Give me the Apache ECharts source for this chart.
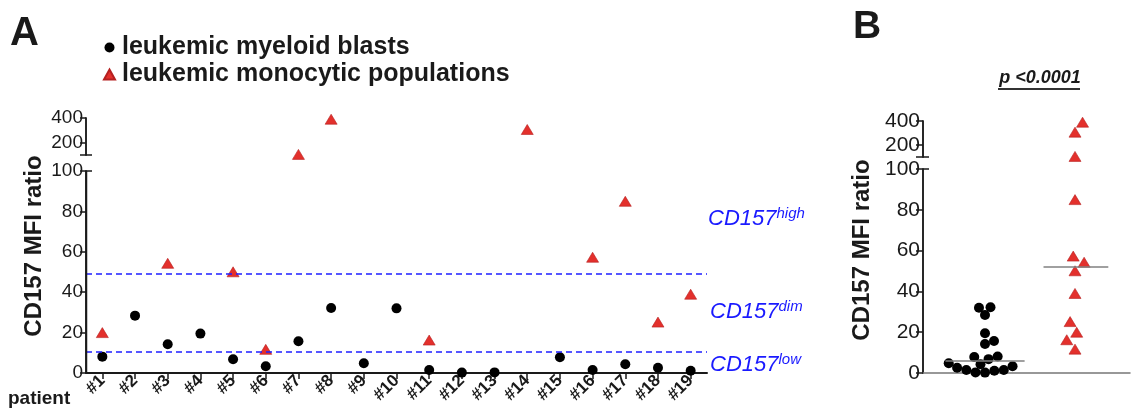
<!DOCTYPE html>
<html>
<head>
<meta charset="utf-8">
<script src="https://cdn.jsdelivr.net/npm/echarts@6/dist/echarts.min.js"></script>
<style>
  html, body { margin: 0; padding: 0; background: #fff; }
  #chart { width: 1132px; height: 412px; }
</style>
</head>
<body>
<div id="chart"></div>
<script>
// values
const patients = ['#1', '#2', '#3', '#4', '#5', '#6', '#7', '#8', '#9', '#10',
  '#11', '#12', '#13', '#14', '#15', '#16', '#17', '#18', '#19'];
const blasts = [8.1, 28.4, 14.2, 19.5, 6.8, 3.3, 15.7, 32.2, 4.8, 32,
  1.5, 0.2, 0.3, null, 7.8, 1.5, 4.3, 2.6, 1.1];
const monocytic = [20, null, 54.3, null, 50.1, 11.7, 105, 390, null, null,
  16.3, null, null, 307, null, 57.3, 85, 25.2, 39];
const thresholds = [49, 10.4];
const breakValue = 100;
const topValue = 400;
const upperLabels = [200, 400];

const FONT = '"Liberation Sans", Arial, sans-serif';
const RED = '#e3302c';
const INK = '#1a1a1a';

// grid geometry
const A = { left: 86, width: 621, upTop: 118, upH: 37, lowTop: 171, lowH: 202 };
const B = { left: 923, width: 207, upTop: 121, upH: 36, lowTop: 169, lowH: 204 };
const bxMin = -0.689, bxMax = 1.611;

function yPixB(v) {
  if (v <= breakValue) return B.lowTop + B.lowH - v / breakValue * B.lowH;
  return B.upTop + B.upH - (v - breakValue) / (topValue - breakValue) * B.upH;
}

// simple beeswarm in pixel space
function swarm(values, minDist) {
  const order = values.map((v, i) => i).sort((a, b) => values[a] - values[b]);
  const placed = [];
  const xs = new Array(values.length);
  let flip = 1;
  order.forEach(i => {
    const y = yPixB(values[i]);
    const blocked = [];
    placed.forEach(p => {
      const dy = Math.abs(p.y - y);
      if (dy < minDist) {
        const w = Math.sqrt(minDist * minDist - dy * dy);
        blocked.push([p.x - w, p.x + w]);
      }
    });
    const cands = [0];
    blocked.forEach(b => cands.push(b[0], b[1]));
    const ok = cands.filter(c => blocked.every(b => c <= b[0] + 1e-6 || c >= b[1] - 1e-6));
    ok.sort((a, b) => (Math.abs(a) - Math.abs(b)) || (a - b) * flip);
    const x = ok[0];
    if (Math.abs(x) > 1e-6) flip = -flip;
    placed.push({ x: x, y: y });
    xs[i] = x;
  });
  return xs;
}

function median(arr) {
  const s = arr.slice().sort((a, b) => a - b);
  const n = s.length;
  return n % 2 ? s[(n - 1) / 2] : (s[n / 2 - 1] + s[n / 2]) / 2;
}

const pxPerUnit = B.width / (bxMax - bxMin);
const blastVals = blasts.filter(v => v != null);
const monoVals = monocytic.filter(v => v != null);
const blastX = swarm(blastVals, 9.5);
const monoX = swarm(monoVals, 12.5);
const blastB = blastVals.map((v, i) => [0 + blastX[i] / pxPerUnit, v]);
const monoB = monoVals.map((v, i) => [1 + monoX[i] / pxPerUnit, v]);
const blastMed = median(blastVals);
const monoMed = median(monoVals);

const nameBlasts = 'leukemic myeloid blasts';
const nameMono = 'leukemic monocytic populations';

const axisLabelStyle = { color: INK, fontFamily: FONT };
const dotStyle = { color: '#000', opacity: 1 };
const triStyle = { color: RED, borderColor: '#b52020', borderWidth: 0.6, opacity: 1 };

// second axis in the same grid: right half of the break ticks
function breakTickAxis(gridIndex, min, max) {
  return {
    gridIndex: gridIndex, type: 'value', min: min, max: max, position: 'left',
    axisLine: { show: true, onZero: false, lineStyle: { color: INK, width: 1.5 } },
    axisLabel: { show: false },
    splitLine: { show: false },
    axisTick: { show: true, inside: true, length: 6, customValues: [breakValue],
      lineStyle: { color: INK, width: 1.5 } }
  };
}

function valueAxis(gridIndex, min, max, fontSize, tickLen, extra) {
  return Object.assign({
    gridIndex: gridIndex, type: 'value', min: min, max: max, position: 'left',
    axisLine: { show: true, onZero: false, lineStyle: { color: INK, width: 1.5 } },
    axisTick: { show: true, length: tickLen, lineStyle: { color: INK, width: 1.5 } },
    axisLabel: Object.assign({ show: true, fontSize: fontSize, margin: 3 }, axisLabelStyle),
    splitLine: { show: false }
  }, extra || {});
}

const upperExtra = (fontSize, tickLen) => ({
  axisTick: { show: true, length: tickLen, customValues: [breakValue].concat(upperLabels),
    lineStyle: { color: INK, width: 1.5 } },
  axisLabel: Object.assign({ show: true, fontSize: fontSize, margin: 3,
    customValues: upperLabels }, axisLabelStyle)
});

const option = {
  animation: false,
  backgroundColor: '#fff',
  legend: {
    orient: 'vertical', left: 98, top: 30, itemGap: 2,
    itemWidth: 11, itemHeight: 10,
    textStyle: { fontSize: 25, fontWeight: 'bold', color: INK, fontFamily: FONT,
      padding: [0, 0, 0, 2], lineHeight: 25 },
    data: [
      { name: nameBlasts, icon: 'circle', itemStyle: { color: '#000' } },
      { name: nameMono, icon: 'triangle', itemStyle: { color: RED } }
    ],
    selectedMode: false
  },
  grid: [
    { left: A.left, width: A.width, top: A.upTop, height: A.upH },
    { left: A.left, width: A.width, top: A.lowTop, height: A.lowH },
    { left: B.left, width: B.width, top: B.upTop, height: B.upH },
    { left: B.left, width: B.width, top: B.lowTop, height: B.lowH }
  ],
  xAxis: [
    { gridIndex: 0, type: 'category', data: patients, show: false },
    { gridIndex: 1, type: 'category', data: patients,
      axisLine: { show: true, onZero: false, lineStyle: { color: INK, width: 2 } },
      axisTick: { show: true, alignWithLabel: true, length: 6, lineStyle: { color: INK, width: 1.5 } },
      axisLabel: Object.assign({ rotate: 45, margin: 5, fontSize: 17, fontWeight: 'bold',
        interval: 0 }, axisLabelStyle),
      splitLine: { show: false } },
    { gridIndex: 2, type: 'value', min: bxMin, max: bxMax, show: false },
    { gridIndex: 3, type: 'value', min: bxMin, max: bxMax,
      axisLine: { show: true, onZero: false, lineStyle: { color: '#777', width: 1.5 } },
      axisTick: { show: false }, axisLabel: { show: false }, splitLine: { show: false } }
  ],
  yAxis: [
    valueAxis(0, breakValue, topValue, 19, 6, upperExtra(19, 6)),
    valueAxis(1, 0, breakValue, 19, 6, { interval: 20 }),
    breakTickAxis(0, breakValue, topValue),
    breakTickAxis(1, 0, breakValue),
    valueAxis(2, breakValue, topValue, 21, 7, upperExtra(21, 7)),
    valueAxis(3, 0, breakValue, 21, 7, { interval: 20 }),
    breakTickAxis(2, breakValue, topValue),
    breakTickAxis(3, 0, breakValue)
  ],
  series: [
    { name: nameBlasts, type: 'scatter', xAxisIndex: 1, yAxisIndex: 1,
      symbol: 'circle', symbolSize: 10, itemStyle: dotStyle,
      data: blasts.map(v => v == null ? '-' : v),
      markLine: {
        silent: true, symbol: 'none', label: { show: false },
        lineStyle: { color: '#1f1fff', type: [6, 4], width: 1.6, opacity: 1 },
        data: thresholds.map(t => ({ yAxis: t }))
      } },
    { name: nameMono, type: 'scatter', xAxisIndex: 1, yAxisIndex: 1, z: 3,
      symbol: 'triangle', symbolSize: [12, 10], itemStyle: triStyle,
      data: monocytic.map(v => (v == null || v > breakValue) ? '-' : v) },
    { name: nameMono, type: 'scatter', xAxisIndex: 0, yAxisIndex: 0, z: 3,
      symbol: 'triangle', symbolSize: [12, 10], itemStyle: triStyle,
      data: monocytic.map(v => (v == null || v <= breakValue) ? '-' : v) },
    { name: nameBlasts, type: 'scatter', xAxisIndex: 3, yAxisIndex: 5,
      symbol: 'circle', symbolSize: 10, itemStyle: dotStyle,
      data: blastB,
      markLine: {
        silent: true, symbol: 'none', label: { show: false },
        lineStyle: { color: '#808080', type: 'solid', width: 1.5, opacity: 1 },
        data: [[{ coord: [-0.44, blastMed] }, { coord: [0.44, blastMed] }]]
      } },
    { name: nameMono, type: 'scatter', xAxisIndex: 3, yAxisIndex: 5, z: 3,
      symbol: 'triangle', symbolSize: [12, 10], itemStyle: triStyle,
      data: monoB.filter(d => d[1] <= breakValue),
      markLine: {
        silent: true, symbol: 'none', label: { show: false },
        lineStyle: { color: '#808080', type: 'solid', width: 1.5, opacity: 1 },
        data: [[{ coord: [0.65, monoMed] }, { coord: [1.37, monoMed] }]]
      } },
    { name: nameMono, type: 'scatter', xAxisIndex: 2, yAxisIndex: 4, z: 3,
      symbol: 'triangle', symbolSize: [12, 10], itemStyle: triStyle,
      data: monoB.filter(d => d[1] > breakValue) }
  ],
  graphic: [
    { type: 'text', left: 10, top: 14,
      style: { text: 'A', font: 'bold 40px ' + FONT, fill: INK } },
    { type: 'text', left: 853, top: 8,
      style: { text: 'B', font: 'bold 39px ' + FONT, fill: INK } },
    { type: 'text', x: 34, y: 246, rotation: Math.PI / 2,
      style: { text: 'CD157 MFI ratio', font: 'bold 24px ' + FONT, fill: INK,
        align: 'center', verticalAlign: 'middle' } },
    { type: 'text', x: 862, y: 250, rotation: Math.PI / 2,
      style: { text: 'CD157 MFI ratio', font: 'bold 24px ' + FONT, fill: INK,
        align: 'center', verticalAlign: 'middle' } },
    { type: 'text', x: 8, y: 399,
      style: { text: 'patient', font: 'bold 19px ' + FONT, fill: INK,
        align: 'left', verticalAlign: 'middle' } },
    { type: 'text', x: 1040, y: 78,
      style: { text: 'p <0.0001', font: 'italic bold 18px ' + FONT, fill: INK,
        align: 'center', verticalAlign: 'middle' } },
    { type: 'line', shape: { x1: 998, y1: 89, x2: 1080, y2: 89 },
      style: { stroke: '#333', lineWidth: 2 } },
    // y axis line of the lower part of panel A (the axis line there did not render)
    { type: 'line', z: 10,
      shape: { x1: A.left + 0.5, y1: A.lowTop, x2: A.left + 0.5, y2: A.lowTop + A.lowH },
      style: { stroke: INK, lineWidth: 1.5 } }
  ].concat([['high', 708, 219], ['dim', 710, 312], ['low', 710, 365]].map(d => ({
    type: 'text', x: d[1], y: d[2],
    style: {
      text: '{a|CD157}{b|' + d[0] + '}',
      verticalAlign: 'middle', align: 'left',
      rich: {
        a: { fontSize: 22, fontStyle: 'italic', fontFamily: FONT, fill: '#1a1aff', lineHeight: 26 },
        b: { fontSize: 15, fontStyle: 'italic', fontFamily: FONT, fill: '#1a1aff',
          verticalAlign: 'top', lineHeight: 26 }
      }
    }
  })))
};

const chart = echarts.init(document.getElementById('chart'));
chart.setOption(option);
</script>
</body>
</html>
